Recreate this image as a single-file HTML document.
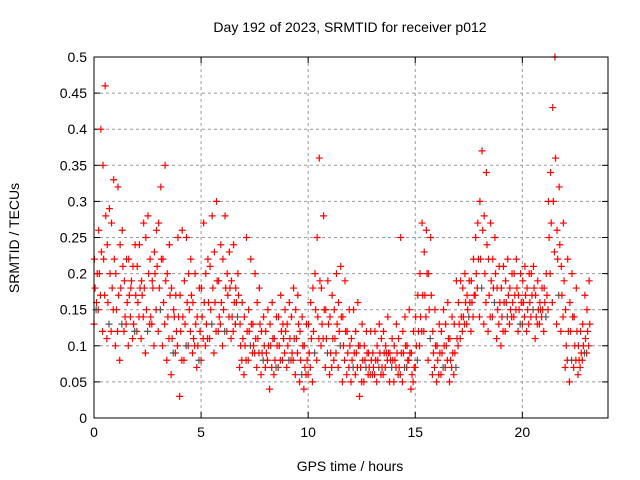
<!DOCTYPE html>
<html><head><meta charset="utf-8"><style>
body{margin:0;background:#fff;}
svg{display:block;font-family:"Liberation Sans",sans-serif;}
</style></head><body>
<svg id="chart" width="640" height="480">
<text x="350" y="32" text-anchor="middle" font-size="14">Day 192 of 2023, SRMTID for receiver p012</text>
<text x="0" y="0" transform="translate(19,238) rotate(-90)" text-anchor="middle" font-size="14">SRMTID / TECUs</text>
<text x="350" y="471" text-anchor="middle" font-size="14">GPS time / hours</text>
<g id="grid"></g><g id="ticks"></g><g id="points"></g>
<rect x="94" y="57" width="514" height="361" fill="none" stroke="#000" stroke-width="1"/>
</svg>
<script>
const xTicks=[0,5,10,15,20];
const yTicks=[0,0.05,0.1,0.15,0.2,0.25,0.3,0.35,0.4,0.45,0.5];
const yTickLabels=["0","0.05","0.1","0.15","0.2","0.25","0.3","0.35","0.4","0.45","0.5"];
const hours=[0,0.2,0.4,0.6,0.8,1,1.2,1.4,1.6,1.8,2,2.2,2.4,2.6,2.8,3,3.2,3.4,3.6,3.8,4,4.2,4.4,4.6,4.8,5,5.2,5.4,5.6,5.8,6,6.2,6.4,6.6,6.8,7,7.2,7.4,7.6,7.8,8,8.2,8.4,8.6,8.8,9,9.2,9.4,9.6,9.8,10,10.2,10.4,10.6,10.8,11,11.2,11.4,11.6,11.8,12,12.2,12.4,12.6,12.8,13,13.2,13.4,13.6,13.8,14,14.2,14.4,14.6,14.8,15,15.2,15.4,15.6,15.8,16,16.2,16.4,16.6,16.8,17,17.2,17.4,17.6,17.8,18,18.2,18.4,18.6,18.8,19,19.2,19.4,19.6,19.8,20,20.2,20.4,20.6,20.8,21,21.2,21.4,21.6,21.8,22,22.2,22.4,22.6,22.8,23];
const lowVals=[.13,.15,.12,.11,.12,.10,.08,.12,.10,.11,.12,.11,.09,.13,.10,.12,.10,.08,.06,.09,.03,.08,.10,.09,.07,.08,.10,.11,.09,.12,.10,.12,.11,.13,.07,.06,.08,.09,.07,.06,.07,.04,.06,.07,.08,.07,.08,.06,.05,.04,.06,.05,.08,.10,.07,.06,.08,.07,.05,.06,.05,.06,.03,.05,.06,.06,.05,.06,.07,.05,.05,.06,.05,.07,.04,.07,.10,.12,.08,.06,.05,.06,.07,.05,.06,.10,.12,.13,.12,.17,.14,.13,.12,.14,.11,.10,.12,.13,.14,.12,.13,.12,.14,.11,.13,.12,.15,.16,.13,.12,.07,.05,.07,.06,.08,.09];
const midLowVals=[.15,.17,.17,.13,.15,.12,.13,.13,.14,.12,.14,.14,.12,.13,.15,.15,.13,.11,.09,.10,.08,.10,.12,.10,.08,.11,.11,.13,.12,.13,.12,.14,.12,.14,.08,.08,.10,.09,.09,.08,.08,.07,.07,.08,.09,.08,.08,.09,.06,.06,.07,.09,.11,.11,.09,.07,.09,.10,.08,.07,.07,.07,.05,.07,.06,.06,.07,.06,.08,.07,.07,.06,.07,.08,.05,.08,.12,.14,.11,.07,.06,.07,.08,.07,.07,.11,.13,.14,.14,.18,.18,.16,.14,.16,.13,.12,.14,.14,.15,.13,.14,.13,.15,.13,.14,.14,.20,.23,.17,.14,.08,.08,.08,.07,.09,.10];
const midVals=[.18,.20,.22,.16,.18,.15,.18,.14,.17,.13,.16,.17,.15,.14,.20,.18,.16,.14,.11,.12,.12,.13,.15,.11,.10,.14,.13,.15,.16,.14,.15,.17,.14,.16,.10,.10,.12,.10,.11,.09,.09,.10,.08,.10,.11,.10,.09,.11,.08,.07,.09,.12,.14,.13,.11,.09,.11,.12,.10,.09,.08,.09,.07,.08,.07,.07,.08,.07,.09,.08,.08,.07,.09,.08,.06,.10,.14,.17,.15,.09,.08,.09,.10,.08,.09,.13,.14,.15,.16,.20,.22,.20,.17,.18,.15,.14,.16,.15,.17,.15,.16,.15,.17,.14,.15,.16,.25,.30,.22,.17,.10,.12,.10,.08,.10,.12];
const midHighVals=[.20,.23,.28,.20,.22,.17,.21,.16,.19,.17,.18,.18,.20,.18,.21,.22,.19,.17,.14,.14,.14,.16,.17,.13,.12,.16,.16,.18,.19,.16,.18,.18,.16,.17,.11,.12,.13,.11,.13,.10,.10,.11,.10,.12,.12,.11,.11,.13,.10,.08,.11,.15,.19,.15,.13,.11,.13,.14,.12,.10,.09,.10,.08,.09,.08,.08,.09,.09,.09,.08,.09,.09,.10,.09,.07,.12,.17,.20,.17,.10,.09,.10,.11,.09,.11,.14,.16,.16,.17,.22,.26,.24,.19,.20,.16,.16,.17,.16,.18,.16,.17,.16,.18,.15,.15,.17,.27,.36,.24,.19,.12,.14,.12,.09,.11,.13];
const highVals=[.22,.26,.35,.24,.27,.20,.24,.19,.22,.21,.21,.19,.25,.22,.23,.27,.22,.20,.18,.17,.17,.19,.20,.16,.14,.18,.20,.21,.23,.19,.22,.20,.19,.18,.13,.14,.15,.13,.16,.12,.12,.13,.11,.14,.13,.13,.14,.15,.12,.10,.13,.18,.25,.18,.15,.14,.15,.16,.14,.12,.11,.12,.10,.10,.09,.09,.10,.11,.10,.09,.10,.11,.12,.10,.09,.14,.20,.23,.20,.12,.10,.12,.13,.11,.13,.16,.18,.17,.19,.25,.30,.28,.22,.22,.18,.18,.19,.18,.20,.17,.19,.18,.20,.17,.16,.18,.30,.43,.26,.21,.15,.16,.14,.10,.13,.15];
const peakVals=[.16,.40,.46,.29,.33,.32,.26,.22,.18,.24,.24,.27,.28,.19,.26,.32,.35,.24,.15,.25,.26,.25,.22,.20,.18,.27,.22,.28,.30,.24,.28,.23,.24,.20,.16,.25,.22,.20,.18,.14,.15,.16,.14,.17,.15,.16,.18,.17,.14,.13,.16,.20,.36,.28,.19,.17,.20,.21,.19,.15,.15,.16,.13,.12,.12,.12,.13,.12,.14,.11,.13,.25,.14,.15,.12,.17,.27,.26,.25,.15,.13,.15,.16,.14,.19,.19,.20,.19,.22,.27,.37,.34,.27,.25,.21,.21,.22,.20,.22,.20,.21,.20,.21,.19,.18,.20,.34,.50,.32,.27,.22,.20,.18,.12,.17,.19];

const X0=94,X1=608,Y0=418,Y1=57;
const xs=h=>X0+(h/24)*(X1-X0);
const ys=v=>Y0-(v/0.5)*(Y0-Y1);
const NS="http://www.w3.org/2000/svg";
function mk(tag,attrs,parent){const e=document.createElementNS(NS,tag);for(const k in attrs)e.setAttribute(k,attrs[k]);parent.appendChild(e);return e;}
const grid=document.getElementById('grid'),ticks=document.getElementById('ticks'),pts=document.getElementById('points');
xTicks.forEach(t=>{const x=xs(t);
 if(t>0){const g=mk('line',{x1:x,x2:x,y1:Y1,y2:Y0,stroke:'#999','stroke-dasharray':'3,3'},grid);
 
 }
 mk('line',{x1:x,x2:x,y1:Y0,y2:Y0-6,stroke:'#000'},ticks);
 mk('line',{x1:x,x2:x,y1:Y1,y2:Y1+6,stroke:'#000'},ticks);
 const l=mk('text',{x:x,y:Y0+19,'text-anchor':'middle','font-size':'14'},ticks);l.textContent=t;
 
 });
yTicks.forEach((t,i)=>{const y=ys(t);
 if(t>0&&t<0.5){const g=mk('line',{x1:X0,x2:X1,y1:y,y2:y,stroke:'#999','stroke-dasharray':'3,3'},grid);
 
 }
 mk('line',{x1:X0,x2:X0+6,y1:y,y2:y,stroke:'#000'},ticks);
 mk('line',{x1:X1,x2:X1-6,y1:y,y2:y,stroke:'#000'},ticks);
 const l=mk('text',{x:X0-7,y:y+5,'text-anchor':'end','font-size':'14'},ticks);l.textContent=yTickLabels[i];
 
 });
const series=[lowVals,midLowVals,midVals,midHighVals,highVals,peakVals];
const offs=[0,0.1,0.05,0.15,0.02,0.12];
const cols=['#f00','#555','#f00','#f00','#f00','#f00'];
series.forEach((arr,si)=>{arr.forEach((v,i)=>{
 const x=xs(hours[i]+offs[si]),y=ys(v);
 const p=mk('path',{d:`M${x-3.5},${y}h7M${x},${y-3.5}v7`,stroke:(si===1&&i%3!==0)?'#f00':cols[si],'stroke-width':'1.2',fill:'none'},pts);
 
 });});
</script>
</body></html>
